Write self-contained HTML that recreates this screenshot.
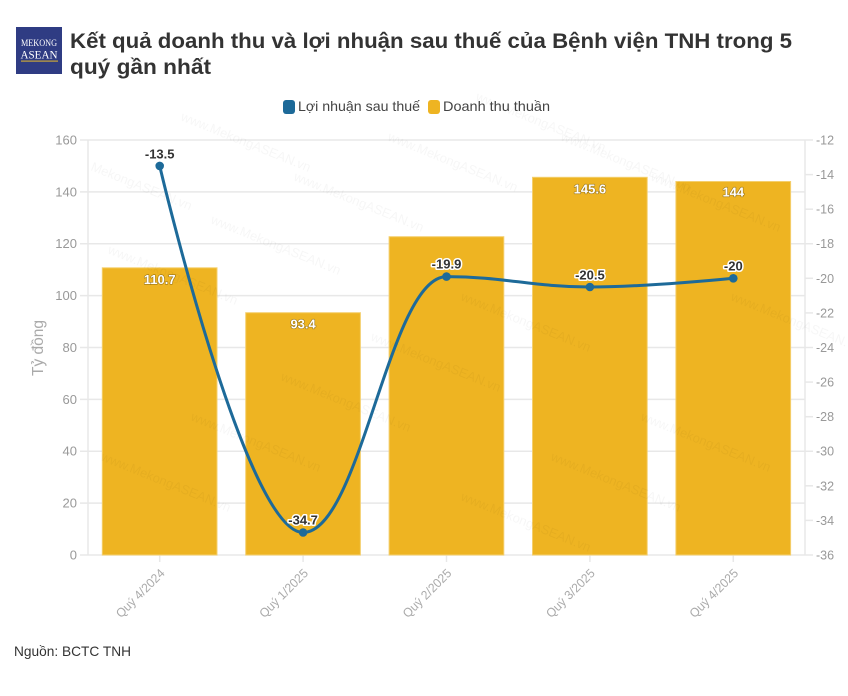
<!DOCTYPE html>
<html>
<head>
<meta charset="utf-8">
<style>
  html,body{margin:0;padding:0;background:#fff;}
  svg{display:block;}
  text{font-family:"Liberation Sans","Noto Sans CJK SC",sans-serif;}
</style>
</head>
<body>
<svg width="848" height="696" viewBox="0 0 848 696" xmlns="http://www.w3.org/2000/svg">
  <rect x="0" y="0" width="848" height="696" fill="#ffffff"/>

  <!-- Logo -->
  <rect x="16" y="27" width="46" height="47" fill="#2f3c83"/>
  <text x="39" y="46" style="font-family:'Liberation Serif',serif" font-size="9.5" fill="#ffffff" text-anchor="middle" textLength="36" lengthAdjust="spacingAndGlyphs">MEKONG</text>
  <text x="39" y="58.5" style="font-family:'Liberation Serif',serif" font-size="12" fill="#ffffff" text-anchor="middle" textLength="37" lengthAdjust="spacingAndGlyphs">ASEAN</text>
  <rect x="21" y="60.5" width="37" height="1.2" fill="#c9a53a"/>

  <!-- Title -->
  <text x="70" y="48" font-size="21" font-weight="bold" fill="#333333" textLength="722" lengthAdjust="spacingAndGlyphs">Kết quả doanh thu và lợi nhuận sau thuế của Bệnh viện TNH trong 5</text>
  <text x="70" y="74" font-size="21" font-weight="bold" fill="#333333" textLength="141" lengthAdjust="spacingAndGlyphs">quý gần nhất</text>

  <!-- Legend -->
  <rect x="283" y="100" width="12" height="14" rx="3" fill="#1d6a99"/>
  <text x="298" y="111" font-size="14" fill="#444444" textLength="122" lengthAdjust="spacingAndGlyphs">Lợi nhuận sau thuế</text>
  <rect x="428" y="100" width="12" height="14" rx="3" fill="#eeb422"/>
  <text x="443" y="111" font-size="14" fill="#444444" textLength="107" lengthAdjust="spacingAndGlyphs">Doanh thu thuần</text>

  <!-- Grid lines -->
  <g stroke="#e8e8e8" stroke-width="1.5">
    <line x1="80" y1="140" x2="805" y2="140"/>
    <line x1="80" y1="191.9" x2="805" y2="191.9"/>
    <line x1="80" y1="243.75" x2="805" y2="243.75"/>
    <line x1="80" y1="295.6" x2="805" y2="295.6"/>
    <line x1="80" y1="347.5" x2="805" y2="347.5"/>
    <line x1="80" y1="399.4" x2="805" y2="399.4"/>
    <line x1="80" y1="451.25" x2="805" y2="451.25"/>
    <line x1="80" y1="503.1" x2="805" y2="503.1"/>
    <line x1="80" y1="555" x2="805" y2="555"/>
    <line x1="88" y1="140" x2="88" y2="555"/>
    <line x1="805" y1="140" x2="805" y2="555"/>
    <!-- right ticks -->
    <line x1="805" y1="140" x2="813" y2="140"/>
    <line x1="805" y1="174.6" x2="813" y2="174.6"/>
    <line x1="805" y1="209.2" x2="813" y2="209.2"/>
    <line x1="805" y1="243.75" x2="813" y2="243.75"/>
    <line x1="805" y1="278.3" x2="813" y2="278.3"/>
    <line x1="805" y1="312.9" x2="813" y2="312.9"/>
    <line x1="805" y1="347.5" x2="813" y2="347.5"/>
    <line x1="805" y1="382.1" x2="813" y2="382.1"/>
    <line x1="805" y1="416.7" x2="813" y2="416.7"/>
    <line x1="805" y1="451.25" x2="813" y2="451.25"/>
    <line x1="805" y1="485.8" x2="813" y2="485.8"/>
    <line x1="805" y1="520.4" x2="813" y2="520.4"/>
    <line x1="805" y1="555" x2="813" y2="555"/>
    <!-- x ticks -->
    <line x1="159.7" y1="555" x2="159.7" y2="562"/>
    <line x1="303.1" y1="555" x2="303.1" y2="562"/>
    <line x1="446.5" y1="555" x2="446.5" y2="562"/>
    <line x1="589.9" y1="555" x2="589.9" y2="562"/>
    <line x1="733.3" y1="555" x2="733.3" y2="562"/>
  </g>

  <!-- Left axis labels -->
  <g font-size="13" fill="#999999" text-anchor="end">
    <text x="77" y="144.5">160</text>
    <text x="77" y="196.4">140</text>
    <text x="77" y="248.2">120</text>
    <text x="77" y="300.1">100</text>
    <text x="77" y="352">80</text>
    <text x="77" y="403.9">60</text>
    <text x="77" y="455.7">40</text>
    <text x="77" y="507.6">20</text>
    <text x="77" y="559.5">0</text>
  </g>

  <!-- Right axis labels -->
  <g font-size="12.5" fill="#999999" text-anchor="start">
    <text x="816" y="144.5">-12</text>
    <text x="816" y="179.1">-14</text>
    <text x="816" y="213.7">-16</text>
    <text x="816" y="248.2">-18</text>
    <text x="816" y="282.8">-20</text>
    <text x="816" y="317.4">-22</text>
    <text x="816" y="352">-24</text>
    <text x="816" y="386.6">-26</text>
    <text x="816" y="421.2">-28</text>
    <text x="816" y="455.7">-30</text>
    <text x="816" y="490.3">-32</text>
    <text x="816" y="524.9">-34</text>
    <text x="816" y="559.5">-36</text>
  </g>

  <!-- Y axis title -->
  <text transform="translate(43,348) rotate(-90)" font-size="15.5" fill="#aaaaaa" text-anchor="middle">Tỷ đồng</text>

  <!-- Bars -->
  <g fill="#eeb422" stroke="#f4cf6e" stroke-width="1">
    <rect x="102.3" y="267.8" width="114.7" height="287.2"/>
    <rect x="245.7" y="312.7" width="114.7" height="242.3"/>
    <rect x="389.1" y="236.7" width="114.7" height="318.3"/>
    <rect x="532.5" y="177.3" width="114.7" height="377.7"/>
    <rect x="675.9" y="181.5" width="114.7" height="373.5"/>
  </g>

  <!-- Bar labels -->
  <g font-size="13" font-weight="bold" fill="#ffffff" text-anchor="middle" stroke="rgba(0,0,0,0.35)" stroke-width="1.2" paint-order="stroke" stroke-linejoin="round">
    <text x="159.7" y="284">110.7</text>
    <text x="303.1" y="328.5">93.4</text>
    <text x="589.9" y="193.3">145.6</text>
    <text x="733.3" y="196.5">144</text>
  </g>

  <!-- Watermarks -->
  <g font-size="13" fill="#000000" fill-opacity="0.035">
    <text transform="translate(387,140) rotate(22)">www.MekongASEAN.vn</text>
    <text transform="translate(293,180) rotate(22)">www.MekongASEAN.vn</text>
    <text transform="translate(210,223) rotate(22)">www.MekongASEAN.vn</text>
    <text transform="translate(180,120) rotate(22)">www.MekongASEAN.vn</text>
    <text transform="translate(90,170) rotate(22)">MekongASEAN.vn</text>
    <text transform="translate(107,253) rotate(22)">www.MekongASEAN.vn</text>
    <text transform="translate(475,100) rotate(22)">www.MekongASEAN.vn</text>
    <text transform="translate(560,140) rotate(22)">www.MekongASEAN.vn</text>
    <text transform="translate(650,180) rotate(22)">www.MekongASEAN.vn</text>
    <text transform="translate(460,300) rotate(22)">www.MekongASEAN.vn</text>
    <text transform="translate(370,340) rotate(22)">www.MekongASEAN.vn</text>
    <text transform="translate(280,380) rotate(22)">www.MekongASEAN.vn</text>
    <text transform="translate(190,420) rotate(22)">www.MekongASEAN.vn</text>
    <text transform="translate(100,460) rotate(22)">www.MekongASEAN.vn</text>
    <text transform="translate(640,420) rotate(22)">www.MekongASEAN.vn</text>
    <text transform="translate(550,460) rotate(22)">www.MekongASEAN.vn</text>
    <text transform="translate(460,500) rotate(22)">www.MekongASEAN.vn</text>
    <text transform="translate(730,300) rotate(22)">www.MekongASEAN.vn</text>
  </g>

  <!-- Line series -->
  <path d="M159.7 165.9 C159.7 165.9 245.7 532.5 303.1 532.5 C360.5 532.5 389.1 276.6 446.5 276.6 C503.9 276.6 532.5 287 589.9 287 C647.3 287 733.3 278.3 733.3 278.3" fill="none" stroke="#1d6a99" stroke-width="3" stroke-linecap="round" stroke-linejoin="round"/>
  <g fill="#1d6a99">
    <circle cx="159.7" cy="165.9" r="4.3"/>
    <circle cx="303.1" cy="532.5" r="4.3"/>
    <circle cx="446.5" cy="276.6" r="4.3"/>
    <circle cx="589.9" cy="287" r="4.3"/>
    <circle cx="733.3" cy="278.3" r="4.3"/>
  </g>

  <!-- Line labels -->
  <g font-size="13" font-weight="bold" fill="#333333" text-anchor="middle" stroke="#ffffff" stroke-width="3" paint-order="stroke" stroke-linejoin="round">
    <text x="159.7" y="158.3">-13.5</text>
    <text x="303.1" y="524.3">-34.7</text>
    <text x="446.5" y="268.3">-19.9</text>
    <text x="589.9" y="279.3">-20.5</text>
    <text x="733.3" y="270.5">-20</text>
  </g>

  <!-- X axis labels -->
  <g font-size="12.5" fill="#aaaaaa" text-anchor="end">
    <text transform="translate(165.5,574) rotate(-45)" textLength="63" lengthAdjust="spacingAndGlyphs">Quý 4/2024</text>
    <text transform="translate(308.9,574) rotate(-45)" textLength="63" lengthAdjust="spacingAndGlyphs">Quý 1/2025</text>
    <text transform="translate(452.3,574) rotate(-45)" textLength="63" lengthAdjust="spacingAndGlyphs">Quý 2/2025</text>
    <text transform="translate(595.7,574) rotate(-45)" textLength="63" lengthAdjust="spacingAndGlyphs">Quý 3/2025</text>
    <text transform="translate(739.1,574) rotate(-45)" textLength="63" lengthAdjust="spacingAndGlyphs">Quý 4/2025</text>
  </g>

  <!-- Source -->
  <text x="14" y="656" font-size="14" fill="#333333" textLength="117" lengthAdjust="spacingAndGlyphs">Nguồn: BCTC TNH</text>
</svg>
</body>
</html>
